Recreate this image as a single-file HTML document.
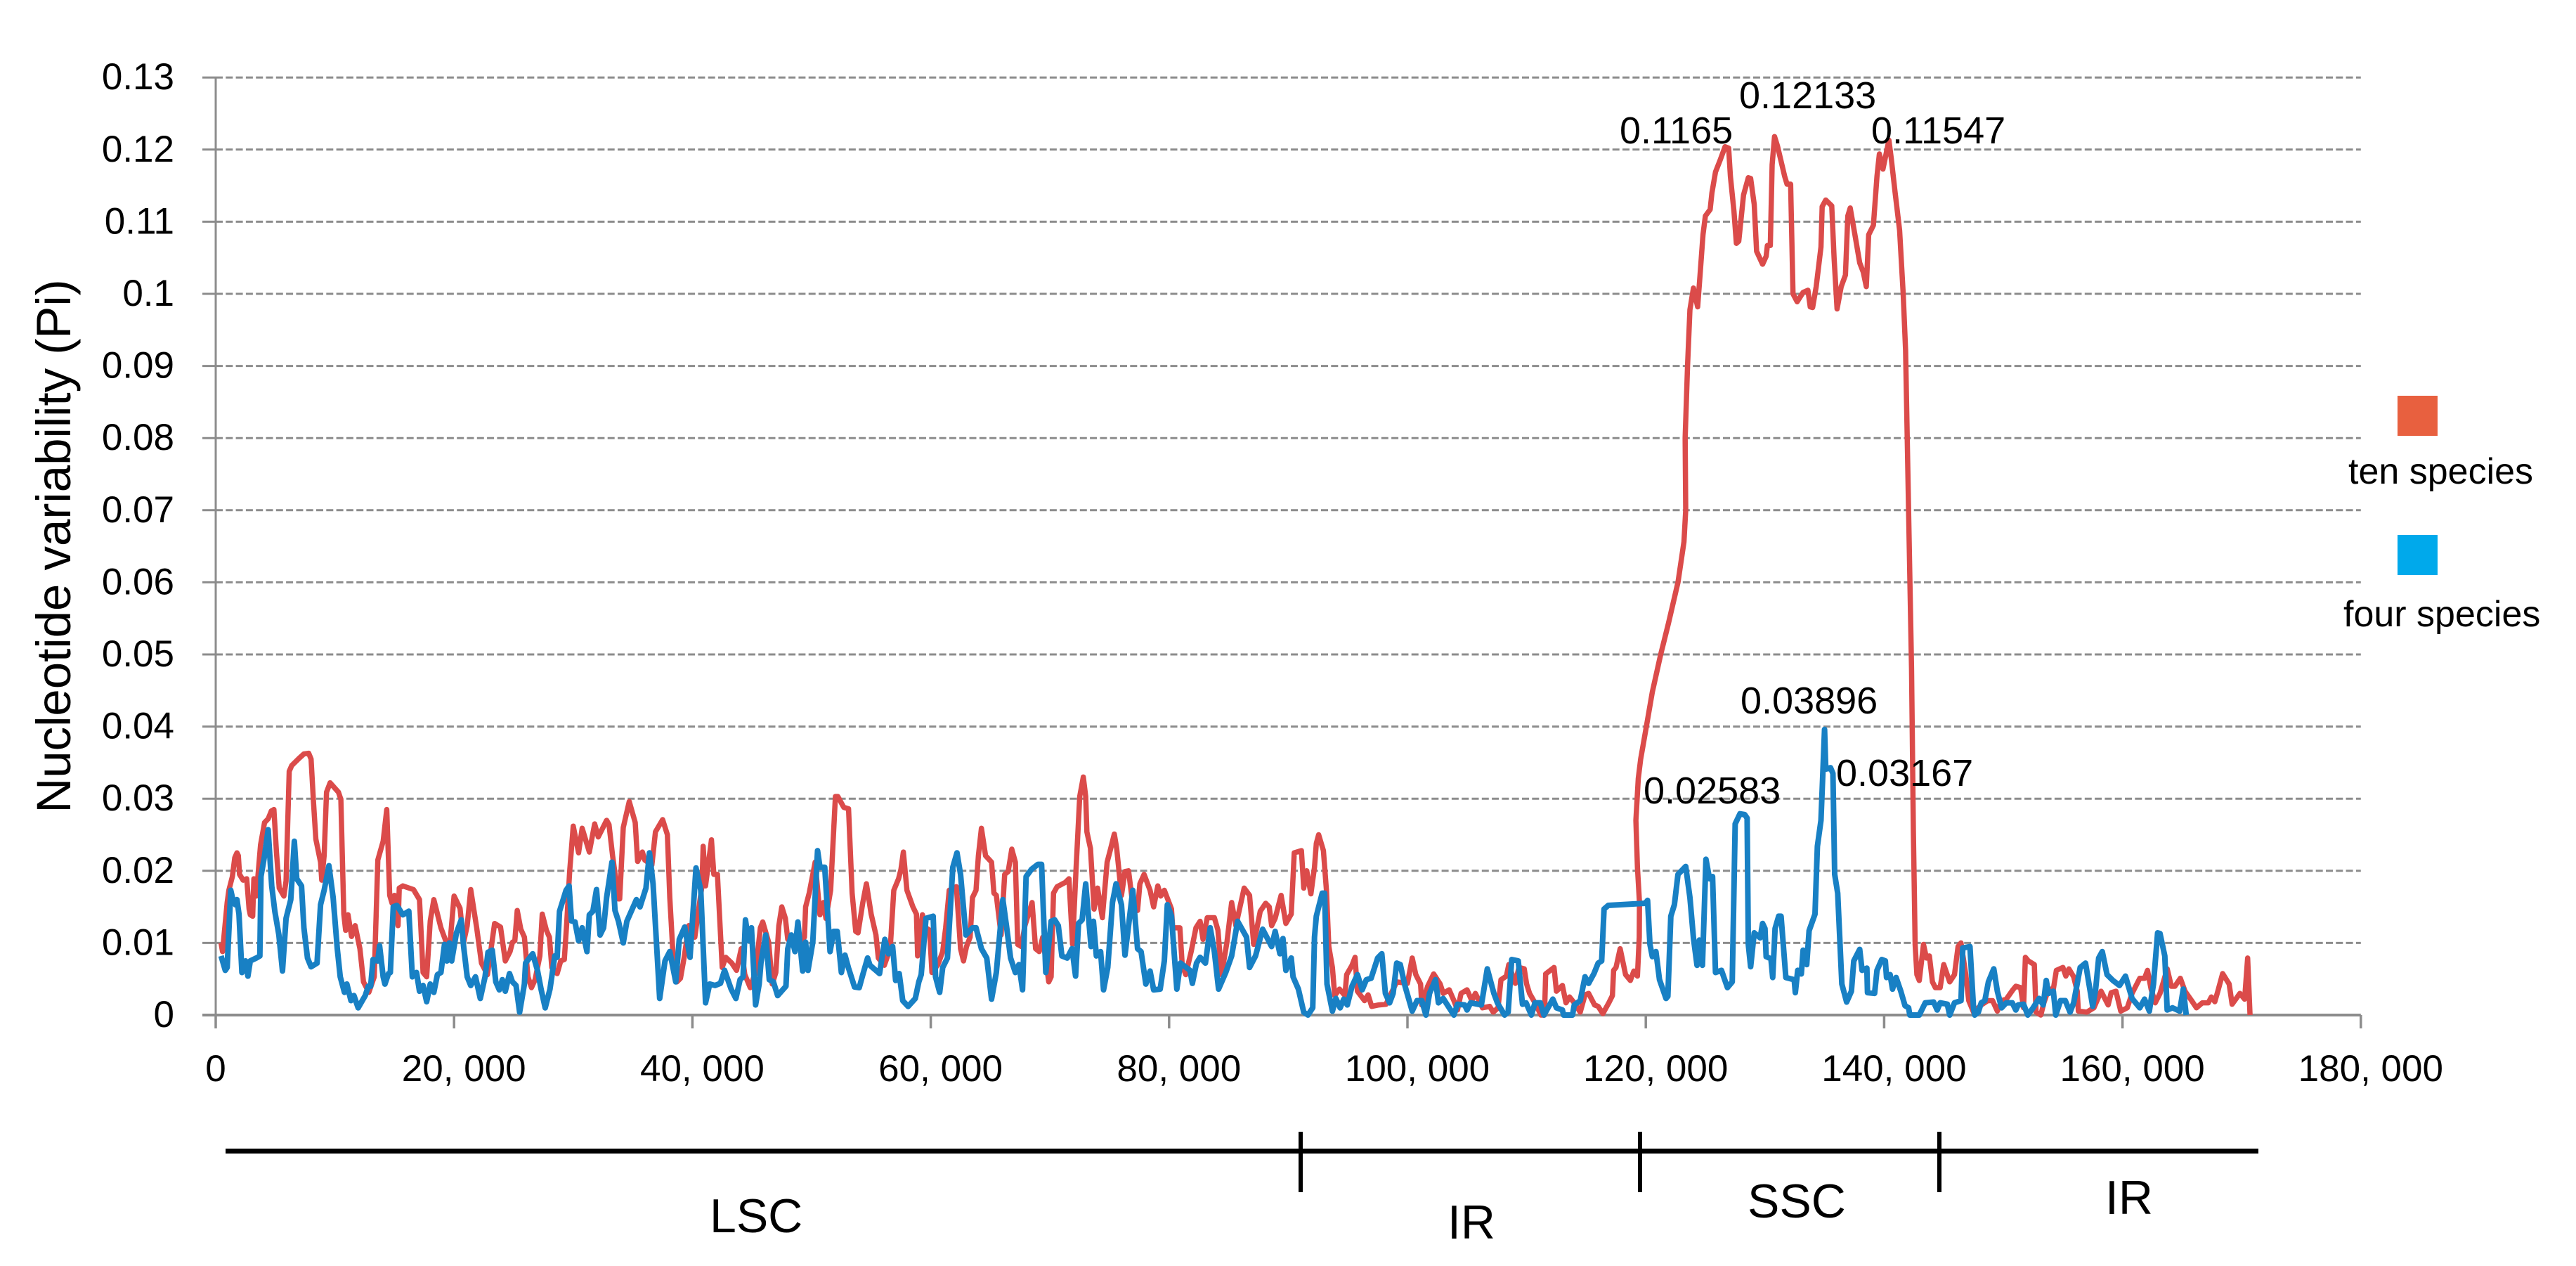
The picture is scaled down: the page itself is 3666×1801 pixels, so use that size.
<!DOCTYPE html>
<html lang="en">
<head>
<meta charset="utf-8">
<title>Nucleotide variability chart</title>
<style>
html,body{margin:0;padding:0;background:#fff;width:3666px;height:1801px;overflow:hidden}
svg{display:block}
text{font-family:"Liberation Sans",sans-serif;fill:#000}
</style>
</head>
<body>
<svg id="chart" xmlns="http://www.w3.org/2000/svg" width="3666" height="1801" viewBox="0 0 3666 1801">
<g id="axes"></g>
<g id="series"></g>
<g font-size="54">
<text x="2305" y="204">0.1165</text>
<text x="2475" y="154">0.12133</text>
<text x="2663" y="204">0.11547</text>
<text x="2477" y="1015">0.03896</text>
<text x="2339" y="1143">0.02583</text>
<text x="2613" y="1118">0.03167</text>
</g>
<text font-size="69" text-anchor="middle" transform="translate(100,777) rotate(-90)">Nucleotide variability (Pi)</text>
<g>
<rect x="3412" y="563" width="57" height="57" fill="#E8603F"/>
<text x="3342" y="688" font-size="52">ten species</text>
<rect x="3412" y="761" width="57" height="57" fill="#00A9EB"/>
<text x="3335" y="891" font-size="52">four species</text>
</g>
<g>
<rect x="321" y="1634" width="2893" height="7" fill="#000"/>
<rect x="1848" y="1610" width="6" height="86" fill="#000"/>
<rect x="2331" y="1610" width="6" height="86" fill="#000"/>
<rect x="2757" y="1610" width="6" height="86" fill="#000"/>
<text x="1010" y="1753" font-size="68">LSC</text>
<text x="2060" y="1762" font-size="68">IR</text>
<text x="2487" y="1732" font-size="68">SSC</text>
<text x="2996" y="1727" font-size="68">IR</text>
</g>
</svg>
<script>
const yTicks = [0,0.01,0.02,0.03,0.04,0.05,0.06,0.07,0.08,0.09,0.1,0.11,0.12,0.13];
const yTickLabels = ["0","0.01","0.02","0.03","0.04","0.05","0.06","0.07","0.08","0.09","0.1","0.11","0.12","0.13"];
const xTicks = [0,20000,40000,60000,80000,100000,120000,140000,160000,180000];
const xTickLabels = ["0","20, 000","40, 000","60, 000","80, 000","100, 000","120, 000","140, 000","160, 000","180, 000"];

// ten species: position in kb, Pi x 1000
const tenKb = [.45,.57,.96,1.1,1.4,1.6,1.78,1.9,2,2.3,2.6,2.8,2.9,3.1,3.2,3.4,3.76,4.1,4.4,4.67,4.88,5.1,5.33,5.72,5.9,6.17,6.38,7,7.4,7.8,8,8.2,8.4,8.8,8.9,9.1,9.3,9.6,10.3,10.5,10.75,10.9,11.1,11.4,11.7,12.1,12.4,12.85,13.3,13.6,14.05,14.35,14.6,14.8,15,15.3,15.4,15.7,16.6,17.1,17.4,17.7,18,18.3,18.9,19.3,19.6,20,20.5,20.8,21.1,21.4,21.9,22.3,22.8,23.4,23.9,24.3,24.7,24.9,25.1,25.3,25.6,25.9,26.2,26.5,26.8,27.2,27.4,27.75,28,28.2,28.65,28.95,29.25,29.45,29.7,30,30.45,30.75,31.35,31.8,32.1,32.8,33,33.3,33.8,33.9,34.2,34.7,35.2,35.4,35.8,36,36.6,36.9,37.5,37.9,38.1,38.4,38.7,39,39.3,39.7,40.2,40.8,40.9,41.1,41.6,41.8,42.1,42.5,42.8,43.3,43.7,44.1,44.4,44.85,45.3,45.7,45.9,46.4,46.7,47,47.25,47.5,47.8,48,48.8,49.4,49.5,49.8,50.3,50.7,51,51.2,51.6,52,52.2,52.7,53.1,53.4,53.7,53.9,54.3,54.6,55,55.4,55.6,56.1,56.6,56.9,57.3,57.5,57.7,58,58.5,58.8,58.9,59.3,59.6,59.9,60.1,60.6,61,61.25,61.55,62.15,62.5,62.75,63,63.3,63.5,63.8,64,64.25,64.6,65.1,65.3,65.5,65.9,66.2,66.5,66.8,67.1,67.3,67.6,67.9,68.5,68.8,69.1,69.4,69.9,70.1,70.3,70.6,71.3,71.6,71.9,72.2,72.5,72.8,73,73.1,73.4,73.7,74,74.4,74.8,75.1,75.4,75.6,76,76.3,76.6,77,77.35,77.55,77.9,78.4,78.7,79.05,79.3,79.6,79.9,80.2,80.3,80.9,81.1,81.4,81.85,82.25,82.6,82.85,83.2,83.8,84.1,84.4,84.85,85.25,85.6,86.3,86.75,87.1,87.65,88.1,88.4,88.6,88.9,89.4,89.8,90.25,90.5,91.1,91.3,91.55,91.9,92.2,92.35,92.55,92.95,93.2,93.4,93.7,93.9,94.3,94.75,94.9,95.35,95.6,95.8,96.4,96.7,97,97.6,98.2,99.1,100,100.4,100.7,101.1,101.2,101.7,102.2,102.75,103,103.5,103.9,104.2,104.5,105,105.4,105.7,106.3,106.9,107.2,107.6,107.85,108.3,108.5,109.05,109.35,109.8,110,110.25,110.7,111.2,111.5,111.6,112.3,112.5,113,113.3,113.6,114,114.5,114.9,115.2,115.7,116,116.4,116.9,117.2,117.3,117.5,117.85,118.1,118.3,118.7,119,119.3,119.45,119.47,119.3,119.17,119.37,119.57,120.05,120.55,121.25,121.9,122.7,123.2,123.35,123.3,123.5,123.7,124,124.35,124.55,124.8,125,125.4,125.55,125.85,126.25,126.65,126.95,127.1,127.4,127.6,127.8,128.2,128.6,128.8,129.1,129.3,129.8,130.1,130.2,130.45,130.6,130.8,131.05,131.65,131.85,132.15,132.35,132.7,133.2,133.6,133.8,134,134.3,134.7,134.8,135.1,135.6,135.8,136.05,136.4,136.75,136.95,137.15,137.55,137.95,138.25,138.5,138.7,139.1,139.4,139.6,139.9,140.4,140.6,140.9,141.3,141.6,141.8,142.3,142.45,142.5,142.6,142.75,142.95,143.3,143.55,143.8,144.05,144.3,144.7,145,145.5,145.9,146.2,146.45,146.85,147.1,147.5,148.15,148.7,149.1,149.5,149.85,150.25,150.8,151.05,151.45,151.7,151.85,152.1,152.6,152.75,153.15,153.4,153.8,154.2,154.45,155,155.25,155.5,155.9,156.2,156.3,157,157.6,158.2,158.8,159.05,159.45,159.85,160.4,160.8,161.45,161.85,162.1,162.4,162.75,163.15,163.75,164.1,164.4,164.85,165.25,165.8,166.2,166.7,167.2,167.45,167.75,168,168.4,168.95,169.2,169.85,170.25,170.5,170.7];
const tenPi = [10,8.8,15.6,17.3,19.2,21.8,22.5,22.1,19.5,18.7,18.9,14.7,13.9,13.7,18.9,16.5,23.6,26.7,27.2,28.3,28.5,22.5,17.6,16.5,18.6,33.8,34.6,35.6,36.2,36.3,35.5,29.6,24.4,21.2,18.7,22.1,30.9,32.2,30.9,29.9,14,11.75,13.9,10.9,12.4,9.2,4.6,3.15,5.3,21.5,24.1,28.5,16.6,15.5,16.6,12.4,17.6,17.9,17.4,16,5.9,5.3,13.05,16,12.1,10.3,8.8,16.5,14.8,10.1,12.4,17.4,12.1,7.2,5.6,12.7,12.2,7.5,8.8,10.1,10.3,14.5,11.9,10.8,5.3,3.8,4.9,8.2,14,11.75,10.8,6.6,5.75,7.5,7.7,12.7,19.9,26.2,22.5,25.9,22.6,26.5,24.7,27,26.4,22.1,16.1,16.1,26,29.6,26.7,21.3,22.6,21.5,20.8,25.4,27.1,25,16.3,7.5,4.6,5.1,7.9,12.4,10.8,17.9,23.4,17.9,24.3,19.5,19.5,6.6,8,7.2,6.2,9.2,5.6,3.8,6,12.1,12.9,10.1,4.3,5.9,12.4,15,13.4,10.5,9.5,10.8,15,16.9,21.2,13.9,15.6,13.4,17.3,30.3,30.3,28.8,28.6,16.9,11.6,11.4,15.6,18.2,14,11.1,7.9,6.9,9.2,17.3,18.9,20.2,22.6,17.3,15,14,8.2,13.9,12.1,11.75,5.9,7,8.8,12.1,17.3,17.8,9.2,7.5,9.5,10.8,16.3,17.3,22.1,25.9,22.1,21.2,16.9,16.6,11.1,19.5,19.9,23,21.2,9.8,9.5,12.4,15.6,9.2,8.8,10.8,4.6,5.3,16.9,17.8,18.4,18.9,9.8,20.5,30.3,33,30.3,25.4,23.1,14.7,17.6,13.5,21.2,23.1,25.1,23.1,16.6,19.9,20,14.7,14.5,18.2,19.5,17.3,15,17.9,16.5,17.3,16,14.7,12.1,12.1,6.9,5.6,8.8,12.1,13,10.5,13.5,13.5,11.75,5.6,10.1,15.6,12.4,17.6,16.6,9.8,14.4,15.5,15,12.4,13.4,16.6,12.7,14,22.5,22.8,17.6,20,16.8,20.5,23.8,25,22.8,17.3,9.5,6.6,2.7,3.6,2.7,5.6,6.9,8,3.3,2,2.8,1.2,1.4,1.5,4.6,4.4,7.9,5.6,4.3,1.4,4,5.7,4.3,3,3.5,2,.7,3,3.5,2,3,1,1.2,.4,1,4.9,5.4,7,4.4,6.6,6.4,4.3,3,1.7,0,0,5.7,6.6,3.3,4.1,1.7,2.5,1.7,.4,2.8,3,1.4,1.2,.2,1.7,2.7,6.2,6.6,9.2,7.2,5.6,4.8,6.1,5.4,10.8,15.6,20.5,27,32.8,35.5,40,44.8,50,54.3,60,65.6,70,80,90,97.8,100.8,98.2,102.6,108.2,110.8,111.7,114,116.9,118.6,120.4,120.2,116.3,111.4,107,107.3,113.7,116.1,116,112.4,105.9,104.1,105.2,106.7,106.7,117.9,121.8,120.5,116.3,115.2,115.2,100,98.9,100.2,100.5,98.2,98.1,101,106.5,112.1,113,112.2,104.9,97.9,101,102.6,110.8,111.9,108.2,104.3,103,101,108.2,109.5,116.3,119.4,117.3,121.3,118.7,114.3,108.8,100,92.2,48,25.4,20.5,9.8,5.6,4.8,9.8,7.9,8.2,4.6,3.8,3.8,7,4.6,5.6,9.5,10,5.6,2,.4,1.4,2,2,.55,2,2.2,3.5,4,3.8,1,8,7.5,7,.4,0,1.7,3.6,3.6,6.2,6.6,5.4,6.4,5.3,3.3,.55,.4,1,3.3,1.4,3.1,3.3,.55,1,3,5.1,5.1,6.2,3.6,1.7,3,6.4,4,4,5.1,3.3,2,1,1.7,1.7,2.5,1.85,3.3,5.75,4.3,1.5,3,2.2,7.9,0];

// four species: position in kb, Pi x 1000
const fourKb = [.45,.8,.96,1.26,1.4,1.65,1.78,1.95,2.2,2.5,2.7,2.9,3.4,3.7,3.8,4.1,4.4,4.7,4.96,5.3,5.6,5.9,6.3,6.6,6.8,7.2,7.4,7.7,8,8.5,8.8,9.1,9.5,9.85,10.2,10.45,10.8,11,11.35,11.6,11.95,12.55,12.8,13,13.2,13.6,13.75,14.05,14.2,14.5,14.65,14.9,15.2,15.7,16.2,16.5,16.85,17.1,17.4,17.7,18,18.3,18.6,18.9,19.2,19.4,19.6,19.8,20.2,20.6,20.8,21.1,21.4,21.8,22.2,22.6,22.85,23.2,23.5,23.8,24.05,24.3,24.65,24.9,25.2,25.5,25.9,26,26.6,27,27.3,27.65,28.05,28.45,28.65,28.85,29.4,29.65,29.85,30.15,30.45,30.75,31.15,31.35,31.65,31.95,32.25,32.55,32.8,33.25,33.5,33.8,34.2,34.5,35.3,35.6,36.1,36.4,36.7,37.25,37.7,38.1,38.6,38.9,39.35,39.8,40.3,40.7,41.1,41.45,41.9,42.35,42.7,43.25,43.65,44,44.25,44.45,44.7,44.95,45.3,45.6,45.75,46.15,46.45,46.8,47.15,47.85,48,48.3,48.6,48.85,49.25,49.5,49.7,50.1,50.5,50.7,51.1,51.55,51.85,52.15,52.5,52.8,53.1,53.6,54,54.3,54.7,54.9,55.7,56.15,56.45,56.8,57.05,57.35,57.65,58.1,58.7,59,59.2,59.6,60.2,60.4,60.75,61,61.4,61.6,61.85,62.2,62.5,62.95,63.5,63.8,64.25,64.7,65.1,65.5,66.05,66.35,66.7,67.1,67.4,67.7,68,68.45,69,69.3,69.65,70.1,70.4,70.7,71,71.45,71.85,72.15,72.4,72.7,73,73.45,73.65,73.9,74.25,74.5,74.85,75.25,75.55,76,76.3,76.6,76.95,77.35,77.65,78.05,78.4,78.7,79.25,79.6,79.85,80.2,80.65,80.95,81.75,81.95,82.3,82.6,83.05,83.45,83.8,84.15,84.75,85.25,85.75,86.5,86.75,87.25,87.85,88.6,88.9,89.3,89.55,89.8,90.25,90.4,90.85,91.3,91.65,92.05,92.2,92.35,92.85,93.05,93.25,93.7,94,94.35,94.65,94.95,95.35,95.8,96.2,96.55,96.95,97.5,97.85,98.15,98.5,98.8,99.1,99.4,99.8,100.4,100.8,101.2,101.55,101.85,102.35,102.6,103,103.9,104.2,104.8,105,105.3,106.2,106.7,107.25,107.55,108.15,108.45,108.75,109.3,109.65,109.95,110.4,110.7,111.15,111.45,112.2,112.5,113,113.1,113.85,114,114.5,114.9,115.2,115.65,116,116.3,116.5,116.85,119.95,120.15,120.35,120.55,120.85,121.15,121.7,121.85,122.1,122.4,122.7,123.35,123.7,124,124.3,124.5,124.75,125.05,125.35,125.6,125.85,126.35,126.85,127.25,127.5,127.9,128.3,128.5,128.6,128.8,129.1,129.6,129.8,130,130.1,130.5,130.65,130.85,131.15,131.35,131.75,132.45,132.55,132.75,133.05,133.2,133.5,133.7,134.2,134.4,134.7,135,135.1,135.5,135.7,135.85,136.1,136.45,136.85,137.25,137.45,137.95,138.15,138.55,138.6,139.2,139.4,139.8,140.1,140.2,140.5,140.7,141,141.4,141.75,142.05,142.15,142.95,143.45,144.15,144.45,144.7,145.3,145.5,145.9,146.45,146.6,147.2,147.5,147.6,147.9,148.15,148.45,148.75,149.2,149.5,149.85,150.25,150.75,151.05,151.25,151.7,152.05,152.5,153,153.35,153.6,153.8,154.2,154.4,154.8,155.2,155.6,155.9,156.45,156.9,157.5,157.75,158,158.3,158.7,159.2,159.75,160.25,160.8,161.45,161.85,162.25,162.6,162.95,163.15,163.55,163.75,164.2,164.8,165.1,165.35];
const fourPi = [8.2,6.2,6.6,17.3,16.3,15.3,16,14,5.9,7.5,5.4,7.5,7.9,8.2,19.2,22.1,25.7,17.9,14.4,11.1,6.1,13.4,16,24.1,18.9,17.9,12.1,7.9,6.7,7.2,15.3,17.3,20.7,16.3,9.2,5.3,3.15,4.3,2,2.7,1,2.7,4,4,7.7,7.5,9.6,5.3,4.3,5.75,5.9,15,15.2,13.9,14.4,5.3,5.9,3.3,4.1,1.85,4.3,3.15,5.6,5.9,9.8,7.5,10,7.5,11.4,13.2,9.5,5.3,4.1,5.3,2.3,5.3,8.7,9,4.6,3.5,4.9,3.3,5.75,4.6,4.1,.4,4.3,7.2,8.5,6.2,3.6,1,3.6,8.2,8,14.4,17.3,17.9,13.05,12.9,10.3,12.1,8.8,13.9,14.4,17.4,11.1,12.1,16.3,21.2,14.5,13,10,13,16,15,17.6,22.5,18.2,2.3,7.5,8.8,4.6,10.5,12.2,8,20.4,17.3,1.7,4.3,4.1,4.4,6.2,3.6,2.3,4.9,5.3,13.2,10.3,12.1,1.4,4.3,7.2,11.1,4.9,4.6,2.7,4,9.2,11.1,8.8,12.9,6.1,10.1,6.2,10.1,22.8,20.5,20.5,8.8,11.6,11.6,5.9,8.3,6.5,3.9,3.8,5.6,7.9,6.9,5.75,10.5,8.5,9.5,4.8,5.75,2,1.2,2.3,4.6,5.6,13.4,13.7,5.3,3.15,6.6,7.9,13.5,20.5,22.5,19.5,11.1,12.1,12.1,9.2,7.9,2.2,5.9,16,12.4,7.9,5.9,7,3.5,19.2,20.2,20.9,20.9,5.9,13,13.2,12.4,8.2,7.9,9.2,5.4,12.7,13.2,18.2,9.5,13,8.2,8.8,3.5,6.6,15.6,18.2,15.3,8.3,12.4,17.3,9.2,8.8,4.3,6.1,3.5,3.6,7.5,15.3,13.7,3.6,7.2,6.2,4.4,7.2,8,7.2,12.1,8.8,3.6,5.9,8.2,13,10.8,6.6,8.2,11.9,9.5,11.6,8.5,10.6,6.2,7.9,5.3,3.6,.4,0,1,10.8,13.7,16.9,16.9,4.3,.55,2.3,1,2.2,1.4,4,5.6,3.5,4.9,5.1,7.9,8.5,3,1.7,3,7.2,7,4,.55,2,2,0,3,4.9,1.7,2.3,0,1.5,1.4,.7,1.7,1.4,6.4,3,1.7,0,.4,7.7,7.5,1.5,1.7,0,1.7,1.7,0,2.2,1,.7,0,0,1.4,2,5.3,4.4,5.75,7.2,7.5,14.7,15.2,15.5,15.9,9.8,8.1,8.8,4.9,2.3,2.6,13.7,15.3,19.5,20.6,16.3,10.7,6.9,10.4,6.9,21.6,18.9,19.2,5.9,6.2,3.8,4.6,26.5,27.9,27.8,27.3,9.8,6.7,11.4,10.7,12.7,12,8.1,7.8,5.2,12,13.7,13.7,5.2,4.9,3.1,6.2,5.7,9,7,11.7,14,23.4,27,39.6,34.1,34.3,33.5,19.5,16.9,4.3,1.8,3.3,7.5,9.1,6.2,6.5,3.1,3,6.2,7.7,7.5,5.2,5.6,3.6,5.2,3.3,1.3,1,0,0,1.7,1.8,.7,1.7,1.5,0,1.7,2,9.3,9.5,1,0,.4,1.7,2,4.6,6.4,3.3,1,1.7,1.7,.7,1.4,1.5,0,1,2.3,1.4,4.8,3,3.3,0,2,2,.4,1.7,6.6,7.2,1.2,3.6,7.9,8.8,5.6,4.8,4.1,5.4,2.3,1,2.2,.55,4.3,11.4,11.3,8.2,.7,1,.55,3.6,0];

const svgNS = 'http://www.w3.org/2000/svg';
const axisLeft = 307, axisBottom = 1444;
const xScale = bp => axisLeft + bp * 339.2 / 20000;
const yScale = pi => axisBottom - pi * 10260;
const gridEnd = xScale(xTicks[xTicks.length - 1]);
const axes = document.getElementById('axes');
const seriesGroup = document.getElementById('series');

function make(tag, attrs, parent) {
  const el = document.createElementNS(svgNS, tag);
  for (const k in attrs) el.setAttribute(k, attrs[k]);
  parent.appendChild(el);
  return el;
}

yTicks.forEach((v, i) => {
  const y = yScale(v);
  if (v > 0) {
    const grid = make('line', {x1: axisLeft, x2: gridEnd, y1: y, y2: y, stroke: '#8C8C8C', 'stroke-width': 3, 'stroke-dasharray': '10 4.3'}, axes);
    
    
  }
  const tick = make('line', {x1: 288, x2: axisLeft, y1: y, y2: y, stroke: '#8C8C8C', 'stroke-width': 3}, axes);
  
  
  const label = make('text', {x: 248, y: y + 17, 'text-anchor': 'end', 'font-size': 53}, axes);
  label.textContent = yTickLabels[i];
  
  
});

xTicks.forEach((v, i) => {
  const x = xScale(v);
  const tick = make('line', {x1: x, x2: x, y1: axisBottom, y2: 1463, stroke: '#8C8C8C', 'stroke-width': 3.5}, axes);
  
  
  const label = make('text', {x: v === 0 ? x : x + 14, y: 1538, 'text-anchor': 'middle', 'font-size': 53}, axes);
  label.textContent = xTickLabels[i];
  
  
});

const yAxisLine = make('line', {x1: axisLeft, x2: axisLeft, y1: yScale(0.13), y2: axisBottom, stroke: '#8C8C8C', 'stroke-width': 3}, axes);


const xAxisLine = make('line', {x1: 288, x2: gridEnd, y1: axisBottom, y2: axisBottom, stroke: '#8C8C8C', 'stroke-width': 4}, axes);



function seriesPoints(kb, piMilli) {
  return kb.map((k, i) => xScale(k * 1000).toFixed(1) + ',' + yScale(piMilli[i] / 1000).toFixed(1)).join(' ');
}

const tenLine = make('polyline', {points: seriesPoints(tenKb, tenPi), fill: 'none', stroke: '#DB4B4A', 'stroke-width': 7.5, 'stroke-linejoin': 'round'}, seriesGroup);


const fourLine = make('polyline', {points: seriesPoints(fourKb, fourPi), fill: 'none', stroke: '#1880C4', 'stroke-width': 8, 'stroke-linejoin': 'round'}, seriesGroup);


</script>
</body>
</html>
